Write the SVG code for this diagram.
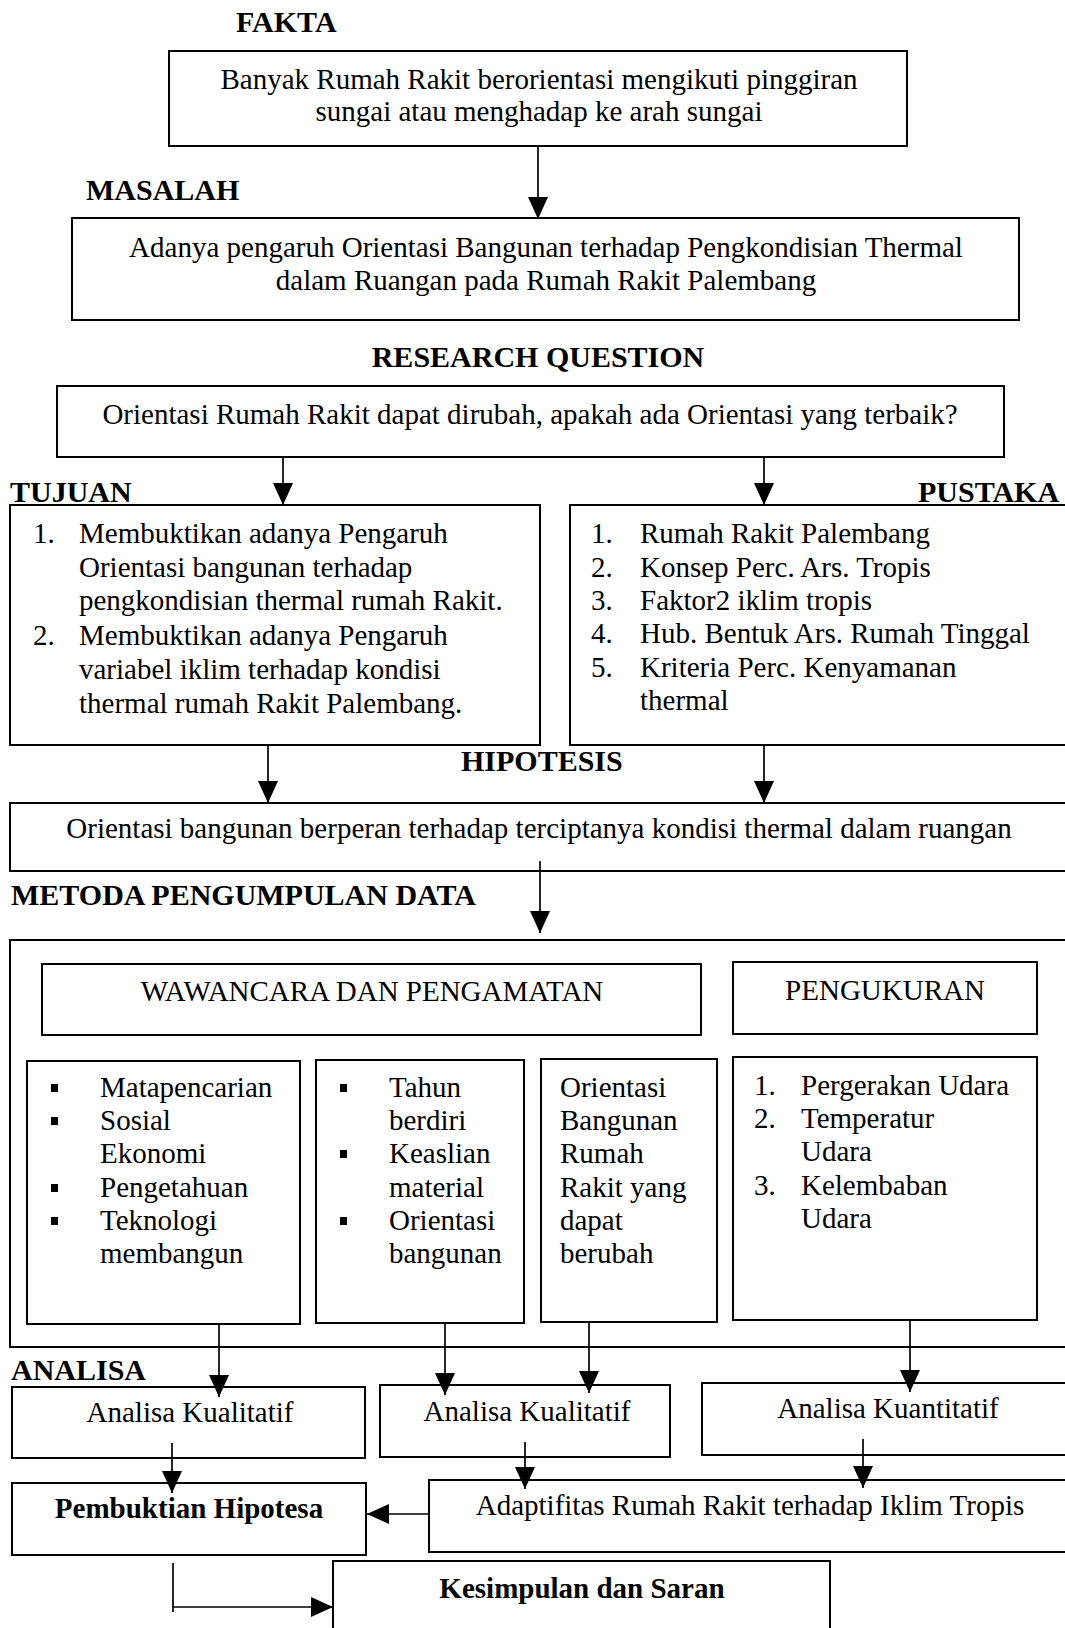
<svg xmlns="http://www.w3.org/2000/svg" width="1065" height="1628" viewBox="0 0 1065 1628">
<style>
text{font-family:"Liberation Serif","Times New Roman",serif;font-size:29px;fill:#000}
.h{font-weight:bold;font-size:30px}
.hb{font-weight:bold}
.c{text-anchor:middle}
.box{fill:#fff;stroke:#000;stroke-width:2}
.conn{fill:none;stroke:#000;stroke-width:1.7}
.bul{fill:#000}
</style>
<defs>
<marker id="ah" markerUnits="userSpaceOnUse" markerWidth="22" markerHeight="20" viewBox="0 0 22 20" refX="22" refY="10" orient="auto">
<path d="M0,0 L22,10 L0,20 z" fill="#000"/>
</marker>
</defs>
<rect width="1065" height="1628" fill="#fff"/>

<g id="labels">
<text class="h" x="236" y="32">FAKTA</text>
<text class="h" x="86" y="200">MASALAH</text>
<text class="h c" x="538" y="367">RESEARCH QUESTION</text>
<text class="h" x="10" y="502">TUJUAN</text>
<text class="h" x="918" y="502">PUSTAKA</text>
<text class="h" x="461" y="771">HIPOTESIS</text>
<text class="h" x="11" y="905">METODA PENGUMPULAN DATA</text>
<text class="h" x="11" y="1380">ANALISA</text>
</g>

<g id="fakta">
<rect class="box" x="169" y="51" width="738" height="95"/>
<text class="c" x="539" y="89">Banyak Rumah Rakit berorientasi mengikuti pinggiran</text>
<text class="c" x="539" y="121">sungai atau menghadap ke arah sungai</text>
</g>

<g id="masalah">
<rect class="box" x="72" y="218" width="947" height="102"/>
<text class="c" x="546" y="257">Adanya pengaruh Orientasi Bangunan terhadap Pengkondisian Thermal</text>
<text class="c" x="546" y="290">dalam Ruangan pada Rumah Rakit Palembang</text>
</g>

<g id="research-question">
<rect class="box" x="57" y="386" width="947" height="71"/>
<text class="c" x="530" y="424">Orientasi Rumah Rakit dapat dirubah, apakah ada Orientasi yang terbaik?</text>
</g>

<g id="tujuan">
<rect class="box" x="10" y="505" width="530" height="240"/>
<text x="33" y="543">1.</text><text x="79" y="543">Membuktikan adanya Pengaruh</text>
<text x="79" y="577">Orientasi bangunan terhadap</text>
<text x="79" y="610">pengkondisian thermal rumah Rakit.</text>
<text x="33" y="645">2.</text><text x="79" y="645">Membuktikan adanya Pengaruh</text>
<text x="79" y="679">variabel iklim terhadap kondisi</text>
<text x="79" y="713">thermal rumah Rakit Palembang.</text>
</g>

<g id="pustaka">
<rect class="box" x="570" y="505" width="510" height="240"/>
<text x="591" y="543">1.</text><text x="640" y="543">Rumah Rakit Palembang</text>
<text x="591" y="577">2.</text><text x="640" y="577">Konsep Perc. Ars. Tropis</text>
<text x="591" y="610">3.</text><text x="640" y="610">Faktor2 iklim tropis</text>
<text x="591" y="643">4.</text><text x="640" y="643">Hub. Bentuk Ars. Rumah Tinggal</text>
<text x="591" y="677">5.</text><text x="640" y="677">Kriteria Perc. Kenyamanan</text>
<text x="640" y="710">thermal</text>
</g>

<g id="hipotesis">
<rect class="box" x="10" y="803" width="1070" height="68"/>
<text class="c" x="539" y="838">Orientasi bangunan berperan terhadap terciptanya kondisi thermal dalam ruangan</text>
</g>

<g id="metoda">
<rect class="box" x="10" y="940" width="1070" height="407"/>
</g>

<g id="wawancara">
<rect class="box" x="42" y="964" width="659" height="71"/>
<text class="c" x="372" y="1001">WAWANCARA DAN PENGAMATAN</text>
</g>

<g id="pengukuran">
<rect class="box" x="733" y="962" width="304" height="72"/>
<text class="c" x="885" y="1000">PENGUKURAN</text>
</g>

<g id="sosial">
<rect class="box" x="27" y="1061" width="273" height="263"/>
<rect class="bul" x="51" y="1084" width="7" height="8"/><text x="100" y="1097">Matapencarian</text>
<rect class="bul" x="51" y="1117" width="7" height="8"/><text x="100" y="1130">Sosial</text>
<text x="100" y="1163">Ekonomi</text>
<rect class="bul" x="51" y="1184" width="7" height="8"/><text x="100" y="1197">Pengetahuan</text>
<rect class="bul" x="51" y="1217" width="7" height="8"/><text x="100" y="1230">Teknologi</text>
<text x="100" y="1263">membangun</text>
</g>

<g id="bangunan">
<rect class="box" x="316" y="1060" width="208" height="263"/>
<rect class="bul" x="340" y="1084" width="7" height="8"/><text x="389" y="1097">Tahun</text>
<text x="389" y="1130">berdiri</text>
<rect class="bul" x="340" y="1150" width="7" height="8"/><text x="389" y="1163">Keaslian</text>
<text x="389" y="1197">material</text>
<rect class="bul" x="340" y="1217" width="7" height="8"/><text x="389" y="1230">Orientasi</text>
<text x="389" y="1263">bangunan</text>
</g>

<g id="orientasi">
<rect class="box" x="541" y="1059" width="176" height="263"/>
<text x="560" y="1097">Orientasi</text>
<text x="560" y="1130">Bangunan</text>
<text x="560" y="1163">Rumah</text>
<text x="560" y="1197">Rakit yang</text>
<text x="560" y="1230">dapat</text>
<text x="560" y="1263">berubah</text>
</g>

<g id="pengukuran-items">
<rect class="box" x="733" y="1057" width="304" height="263"/>
<text x="754" y="1095">1.</text><text x="801" y="1095">Pergerakan Udara</text>
<text x="754" y="1128">2.</text><text x="801" y="1128">Temperatur</text>
<text x="801" y="1161">Udara</text>
<text x="754" y="1195">3.</text><text x="801" y="1195">Kelembaban</text>
<text x="801" y="1228">Udara</text>
</g>

<g id="analisa-kualitatif-1">
<rect class="box" x="12" y="1387" width="353" height="71"/>
<text class="c" x="190" y="1422">Analisa Kualitatif</text>
</g>

<g id="analisa-kualitatif-2">
<rect class="box" x="380" y="1385" width="290" height="72"/>
<text class="c" x="527" y="1421">Analisa Kualitatif</text>
</g>

<g id="analisa-kuantitatif">
<rect class="box" x="702" y="1383" width="380" height="72"/>
<text class="c" x="888" y="1418">Analisa Kuantitatif</text>
</g>

<g id="pembuktian">
<rect class="box" x="12" y="1483" width="354" height="72"/>
<text class="hb c" x="189" y="1518">Pembuktian Hipotesa</text>
</g>

<g id="adaptifitas">
<rect class="box" x="429" y="1480" width="650" height="72"/>
<text class="c" x="750" y="1515">Adaptifitas Rumah Rakit terhadap Iklim Tropis</text>
</g>

<g id="kesimpulan">
<rect class="box" x="333" y="1561" width="497" height="80"/>
<text class="hb c" x="582" y="1598">Kesimpulan dan Saran</text>
</g>

<g id="connectors">
<path class="conn" d="M538,146 V219" marker-end="url(#ah)"/>
<path class="conn" d="M283,458 V505" marker-end="url(#ah)"/>
<path class="conn" d="M764,458 V505" marker-end="url(#ah)"/>
<path class="conn" d="M268,745 V803" marker-end="url(#ah)"/>
<path class="conn" d="M764,745 V803" marker-end="url(#ah)"/>
<path class="conn" d="M540,861 V933" marker-end="url(#ah)"/>
<path class="conn" d="M219,1324 V1397" marker-end="url(#ah)"/>
<path class="conn" d="M445,1323 V1395" marker-end="url(#ah)"/>
<path class="conn" d="M589,1322 V1393" marker-end="url(#ah)"/>
<path class="conn" d="M910,1320 V1392" marker-end="url(#ah)"/>
<path class="conn" d="M172,1443 V1493" marker-end="url(#ah)"/>
<path class="conn" d="M525,1442 V1489" marker-end="url(#ah)"/>
<path class="conn" d="M863,1439 V1488" marker-end="url(#ah)"/>
<path class="conn" d="M429,1514 H367" marker-end="url(#ah)"/>
<path class="conn" d="M173,1563 V1612 M173,1607 H333" marker-end="url(#ah)"/>
</g>
</svg>
